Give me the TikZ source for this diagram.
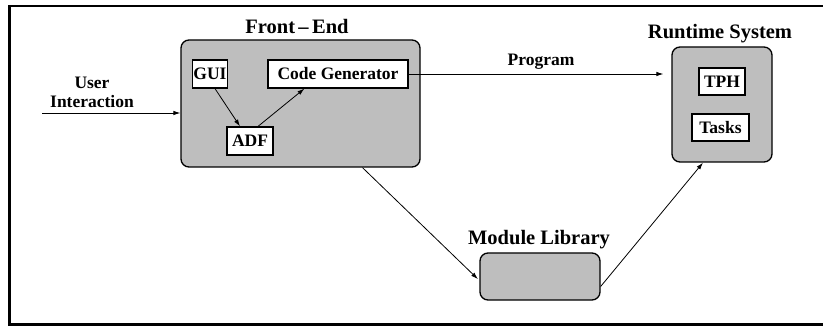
\documentclass[tikz,border=0pt]{standalone}
\usepackage{fontspec}
\setmainfont{Liberation Serif}
\usetikzlibrary{arrows.meta}
\definecolor{boxgray}{RGB}{190,190,190}
\begin{document}
\begin{tikzpicture}[x=1pt,y=-1pt,
  outer/.style={draw, line width=1.3pt, fill=boxgray, rounded corners=8pt, inner sep=0pt},
  inner/.style={draw, line width=1.2pt, fill=white, inner sep=0pt, font=\bfseries\fontsize{17.5}{19}\selectfont},
  title/.style={font=\bfseries\fontsize{20.5}{22}\selectfont, inner sep=0pt},
  lbl/.style={font=\bfseries\fontsize{17.5}{19}\selectfont, inner sep=0pt, align=center},
  arr/.style={line width=0.8pt, -{Latex[length=7pt,width=4.5pt]}}]
\useasboundingbox (0,0) rectangle (823,326);
\begin{scope}
\clip (0,0) rectangle (823,326);
\draw[line width=2.6pt] (9.5,6) rectangle (840,324.5);
\end{scope}
% boxes
\node[outer, minimum width=239pt, minimum height=127pt] (fe) at (300.5,103.5) {};
\node[outer, minimum width=100pt, minimum height=115pt] (rt) at (722,104.5) {};
\node[outer, minimum width=120pt, minimum height=47pt] (ml) at (540,276.5) {};
% titles
\node[title] (fet) at (297,26) {Front\,--\,End};
\node[title] (rtt) at (720,34) {Runtime System};
\node[title] (mlt) at (539,240) {Module Library};
% inner boxes
\node[inner, minimum width=35pt, minimum height=28pt] (gui) at (210,74) {GUI};
\node[inner, minimum width=140pt, minimum height=28pt] (cg) at (338,74) {Code Generator};
\node[inner, minimum width=46pt, minimum height=28pt] (adf) at (250,141) {ADF};
\node[inner, minimum width=46pt, minimum height=27pt] (tph) at (722,81.5) {TPH};
\node[inner, minimum width=57pt, minimum height=27pt] (tasks) at (720.5,127.5) {Tasks};
% labels
\node[lbl] (ui) at (92,92) {User\\Interaction};
\node[lbl] (prog) at (541,62) {Program};
% connectors
\coordinate (uis) at (42,113);
\draw[arr] (uis) -- (uis -| fe.west);
\draw[arr] ([xshift=5pt]gui.south) -- ([xshift=-10pt]adf.north);
\draw[arr] ([xshift=8pt]adf.north) -- ([xshift=37pt]cg.south west);
\draw[arr, shorten >=8pt] (cg.east) -- (cg.east -| rt.west);
\draw[arr, shorten >=2pt] ([xshift=62pt]fe.south) -- ([yshift=-4pt]ml.west);
\draw[arr] ([yshift=-10pt]ml.east) -- ([xshift=-19pt]rt.south);
\end{tikzpicture}
\end{document}
